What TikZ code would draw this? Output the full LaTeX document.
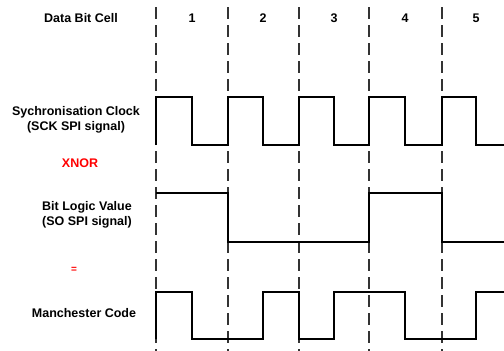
\documentclass[tikz,border=0pt]{standalone}
\usepackage{fontspec}
\setmainfont{Liberation Sans}
\begin{document}
\begin{tikzpicture}[x=1pt,y=-1pt,
  lbl/.style={font=\fontsize{12.5}{15}\selectfont\bfseries, align=center, inner sep=0pt},
  redlbl/.style={lbl, text=red},
  wave/.style={line width=2.8pt, line join=miter, line cap=butt},
  cellline/.style={line width=1.3pt, dash pattern=on 12pt off 6pt, black!80}]
\useasboundingbox (0,0) rectangle (504,351);
% cell boundaries
\foreach \x in {156,228,299,369,442} {
  \draw[cellline] (\x,7) -- (\x,351);
}
% labels
\node[lbl] (dbc) at (81,18) {Data Bit Cell};
\node[lbl] (n1) at (192,18) {1};
\node[lbl] (n2) at (263,18) {2};
\node[lbl] (n3) at (334,18) {3};
\node[lbl] (n4) at (405,18) {4};
\node[lbl] (n5) at (476,18) {5};
\node[lbl] (sck) at (76,119.5) {Sychronisation Clock\\(SCK SPI signal)};
\node[redlbl] (xnor) at (80,163) {XNOR};
\node[lbl] (blv) at (87,215) {Bit Logic Value\\(SO SPI signal)};
\node[redlbl, font=\fontsize{10}{12}\selectfont\bfseries] (eq) at (74,270) {=};
\node[lbl] (man) at (84,313) {Manchester Code};
% clock
\draw[wave] (156,145) -- (156,97) -- (192,97) -- (192,145) -- (228,145) -- (228,97)
  -- (263,97) -- (263,145) -- (299,145) -- (299,97) -- (334,97) -- (334,145)
  -- (369,145) -- (369,97) -- (405,97) -- (405,145) -- (442,145) -- (442,97)
  -- (476,97) -- (476,145) -- (504,145);
% bit logic value
\draw[wave] (156,193) -- (228,193) -- (228,242) -- (369,242) -- (369,193)
  -- (442,193) -- (442,242) -- (504,242);
% manchester
\draw[wave] (156,339) -- (156,292) -- (192,292) -- (192,339) -- (263,339) -- (263,292)
  -- (299,292) -- (299,339) -- (334,339) -- (334,292) -- (405,292) -- (405,339)
  -- (476,339) -- (476,292) -- (504,292);
\end{tikzpicture}
\end{document}
